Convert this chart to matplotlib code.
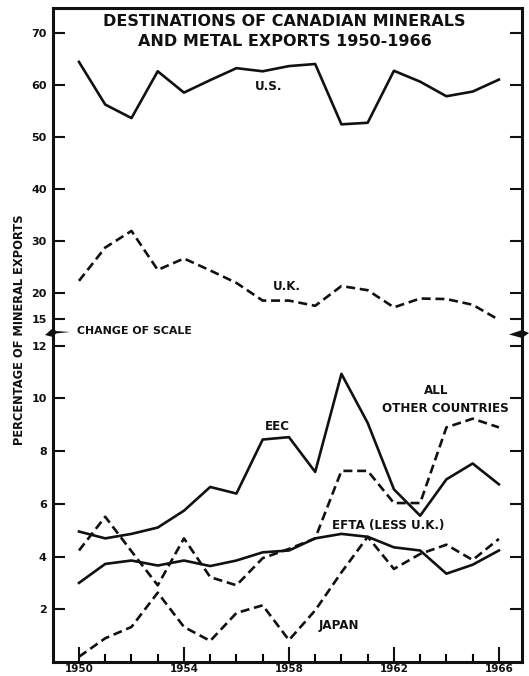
import numpy as np
import matplotlib.pyplot as plt
from matplotlib.patches import Polygon

years = np.arange(1950, 1967)
us = [64.5, 56.3, 53.7, 62.7, 58.6, 61.0, 63.3, 62.7, 63.7, 64.1,
      52.5, 52.8, 62.8, 60.7, 57.9, 58.8, 61.1]
uk = [22.4, 28.8, 32.0, 24.5, 26.7, 24.4, 22.0, 18.6, 18.6, 17.6,
      21.4, 20.6, 17.3, 19.0, 18.9, 17.8, 14.9]
eec = [4.95, 4.69, 4.86, 5.10, 5.74, 6.64, 6.39, 8.44, 8.53, 7.21,
       10.93, 9.07, 6.55, 5.55, 6.93, 7.53, 6.74]
other = [4.23, 5.51, 4.20, 2.91, 4.69, 3.22, 2.91, 3.94, 4.29, 4.69,
         7.25, 7.25, 6.03, 6.03, 8.90, 9.23, 8.90]
efta = [3.00, 3.72, 3.85, 3.66, 3.85, 3.64, 3.85, 4.16, 4.23, 4.69,
        4.86, 4.75, 4.35, 4.23, 3.35, 3.69, 4.23]
japan = [0.20, 0.90, 1.33, 2.63, 1.33, 0.80, 1.86, 2.15, 0.83, 1.96,
         3.40, 4.75, 3.53, 4.10, 4.45, 3.87, 4.67]

upper_ticks = [15, 20, 30, 40, 50, 60, 70]
lower_ticks = [2, 4, 6, 8, 10, 12]
year_ticks = [1950, 1954, 1958, 1962, 1966]

W, H = 529, 676
plt.rcParams['font.family'] = 'DejaVu Sans'
plt.rcParams['font.weight'] = 'bold'
fig = plt.figure(figsize=(W / 100, H / 100), dpi=100)


def fx(x):
    return x / W


def fy(y):
    return 1 - y / H


ink = '#111111'
left, right, top, brk, bottom = 53, 522, 8, 331.7, 662
ax_top = fig.add_axes([fx(left), fy(brk), fx(right) - fx(left), fy(top) - fy(brk)])
ax_bot = fig.add_axes([fx(left), fy(bottom), fx(right) - fx(left), fy(brk) - fy(bottom)],
                      sharex=ax_top)

dash = (0, (3.4, 1.8))
ax_top.plot(years, us, color=ink, lw=1.9)
ax_top.plot(years, uk, color=ink, lw=1.9, ls=dash)
ax_bot.plot(years, eec, color=ink, lw=1.9)
ax_bot.plot(years, other, color=ink, lw=1.9, ls=dash)
ax_bot.plot(years, efta, color=ink, lw=1.9)
ax_bot.plot(years, japan, color=ink, lw=1.9, ls=dash)

ax_bot.set_xlim(1949.01, 1966.88)
ax_top.set_ylim(12.62, 74.87)
ax_bot.set_ylim(0, 12.53)

for ax in (ax_top, ax_bot):
    for s in ax.spines.values():
        s.set_linewidth(2.2)
        s.set_color(ink)
    ax.tick_params(axis='y', direction='in', left=True, right=True, length=8.5,
                   width=1.5, labelsize=8, pad=4.5, colors=ink)
ax_top.spines['bottom'].set_visible(False)
ax_bot.spines['top'].set_visible(False)
ax_top.tick_params(axis='x', bottom=False, labelbottom=False)
ax_top.set_yticks(upper_ticks)
ax_bot.set_yticks(lower_ticks)

ax_bot.set_xticks(year_ticks)
ax_bot.set_xticks(years, minor=True)
ax_bot.tick_params(axis='x', which='major', direction='in', length=11, width=1.5,
                   labelsize=7.5, pad=1.5, colors=ink)
ax_bot.tick_params(axis='x', which='minor', direction='in', length=6, width=1.5)

# break marks on the spines
fig.patches.append(Polygon([(fx(45), fy(335)), (fx(53), fy(328)), (fx(56), fy(331)),
                            (fx(70), fy(332)), (fx(56), fy(333.5)), (fx(53), fy(337))],
                           closed=True, facecolor=ink, edgecolor='none',
                           transform=fig.transFigure, zorder=5))
fig.patches.append(Polygon([(fx(509), fy(334.5)), (fx(522), fy(330)), (fx(529), fy(333)),
                            (fx(522), fy(338))],
                           closed=True, facecolor=ink, edgecolor='none',
                           transform=fig.transFigure, zorder=5))

lab = 8.6
fig.text(fx(284), fy(21), 'DESTINATIONS OF CANADIAN MINERALS', ha='center', va='center',
         fontsize=11.5, color=ink)
fig.text(fx(285), fy(42), 'AND METAL EXPORTS 1950-1966', ha='center', va='center',
         fontsize=11.5, color=ink)
fig.text(fx(20), fy(330), 'PERCENTAGE OF MINERAL EXPORTS', rotation=90,
         ha='center', va='center', fontsize=8.3, color=ink)
fig.text(fx(77), fy(331), 'CHANGE OF SCALE', ha='left', va='center', fontsize=7.9, color=ink)
fig.text(fx(269), fy(86), 'U.S.', ha='center', va='center', fontsize=lab, color=ink)
fig.text(fx(287), fy(287), 'U.K.', ha='center', va='center', fontsize=lab, color=ink)
fig.text(fx(277), fy(427), 'EEC', ha='center', va='center', fontsize=lab, color=ink)
fig.text(fx(436), fy(391), 'ALL', ha='center', va='center', fontsize=lab, color=ink)
fig.text(fx(445), fy(409), 'OTHER COUNTRIES', ha='center', va='center', fontsize=lab, color=ink)
fig.text(fx(388), fy(526), 'EFTA (LESS U.K.)', ha='center', va='center', fontsize=lab, color=ink)
fig.text(fx(339), fy(626), 'JAPAN', ha='center', va='center', fontsize=lab, color=ink)

plt.savefig('out.png', dpi=100)
